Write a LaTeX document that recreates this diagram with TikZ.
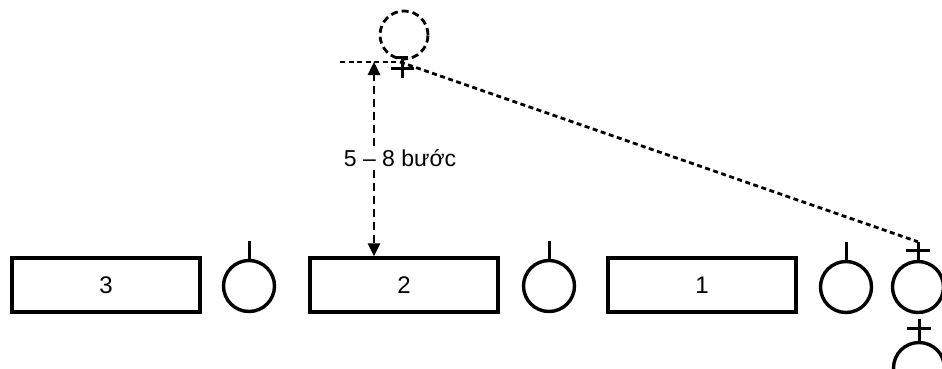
\documentclass[tikz,border=0pt]{standalone}
\usepackage{fontspec}
\setmainfont{Liberation Sans}
\usetikzlibrary{arrows.meta}
\begin{document}
\begin{tikzpicture}[x=1pt,y=-1pt,
  box/.style={draw=black,line width=3.4pt,minimum width=188pt,minimum height=54pt,inner sep=0pt,font=\fontsize{24}{28}\selectfont},
  bulb/.style={draw=black,circle,line width=3.4pt,minimum size=51pt,inner sep=0pt},
  stem/.style={line width=3pt},
  dash1/.style={line width=2.8pt,dash pattern=on 8pt off 5pt},
  dash2/.style={line width=2.8pt,dash pattern=on 5pt off 3.5pt},
  tip/.style={-{Triangle[length=13pt,width=12pt]}}]
\useasboundingbox (0,0) rectangle (942,368);
\node[box] (r3) at (106,285) {3};
\node[box] (r2) at (404,285) {2};
\node[box] (r1) at (702,285) {1};
\node[bulb] (c1) at (249,286) {};
\node[bulb] (c2) at (549,286) {};
\node[bulb] (c3) at (846,287) {};
\node[bulb] (c4) at (918,287) {};
\node[bulb] (c5) at (919,368) {};
\foreach \c in {c1,c2,c3} \draw[stem] (\c.north) -- ++(0,-18);
% plus marks
\draw[stem] (c4.north) -- ++(0,-18) coordinate (p4);
\draw[stem] ([xshift=-12pt,yshift=9pt]c4.north) -- ++(24,0);
\draw[stem] (c5.north) -- ++(0,-22);
\draw[stem] ([xshift=-12pt,yshift=12pt]c5.north) -- ++(24,0);
% top position
\node[draw=black,circle,minimum size=48pt,inner sep=0pt,dash1,dash pattern=on 7pt off 4pt] (pc) at (404,35) {};
\coordinate (hl) at (340,62);
\coordinate (top) at (374,62);
\coordinate (ds) at (400,62);
\draw[dash2] (hl) -- (ds);
\draw[dash2] (ds) -- (p4);
\draw[stem] (402,57) -- (402,78);
\draw[stem] (391,68) -- (414,68);
\draw[stem] (396,57) -- (408,57);
% distance arrows
\node[font=\fontsize{23}{27}\selectfont] (lbl) at (400,158) {5 – 8 bước};
\draw[dash1,tip] (top |- lbl.north) -- (top);
\draw[dash1,tip] (top |- lbl.south) -- (top |- r2.north);
\end{tikzpicture}
\end{document}
